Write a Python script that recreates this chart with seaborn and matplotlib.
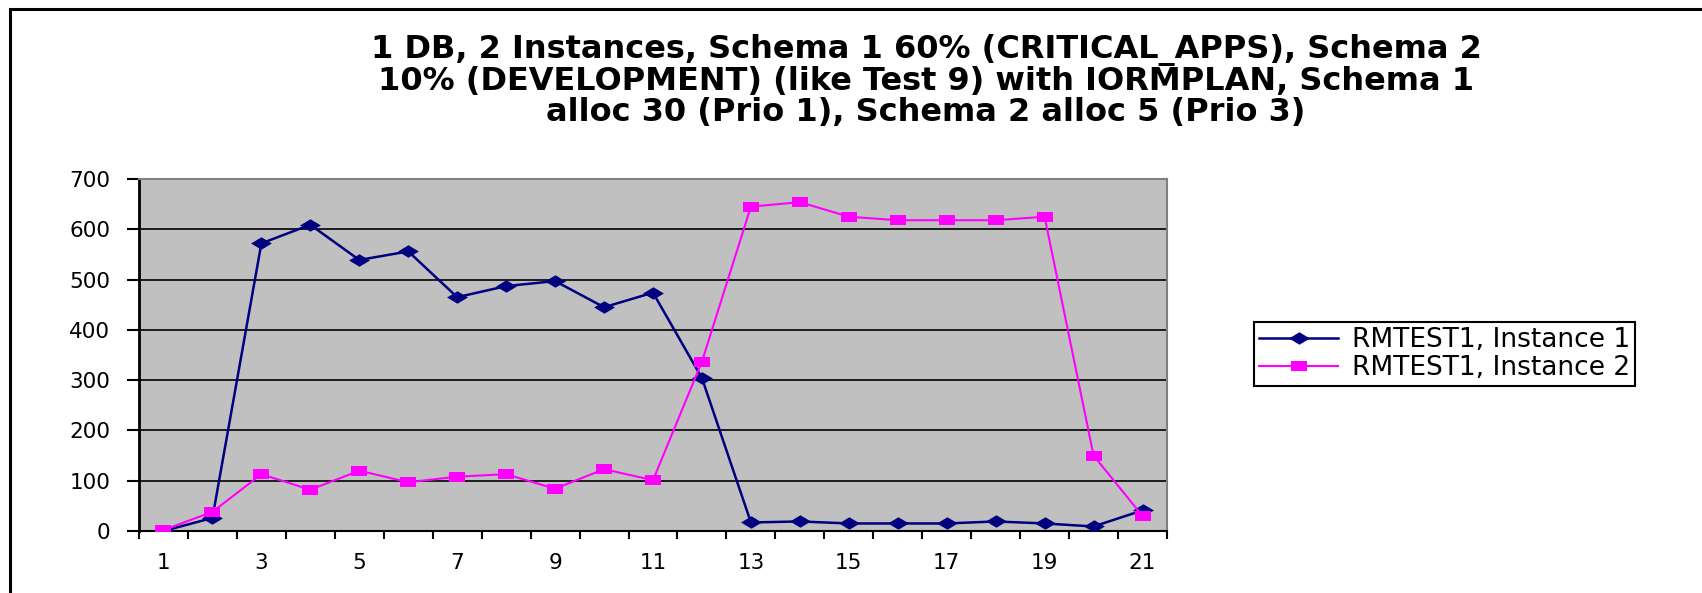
import matplotlib
matplotlib.use("Agg")
import numpy as np
import pandas as pd
import matplotlib.pyplot as plt
import seaborn as sns
from matplotlib.patches import Rectangle
from matplotlib.path import Path
from matplotlib.markers import MarkerStyle
from matplotlib.ticker import FixedLocator, NullFormatter

# ---------------- data ----------------
intervals = list(range(1, 22))
instance1 = [0, 26, 572, 609, 539, 556, 465, 487, 497, 445, 474, 304,
             17, 19, 15, 15, 15, 19, 15, 9, 41]
instance2 = [2, 38, 113, 82, 120, 97, 108, 113, 84, 123, 101, 337,
             645, 654, 625, 618, 618, 618, 625, 150, 30]
series_names = ["RMTEST1, Instance 1", "RMTEST1, Instance 2"]
series_colors = ["#000080", "#FF00FF"]
y_ticks = [0, 100, 200, 300, 400, 500, 600, 700]
x_tick_labels = [1, 3, 5, 7, 9, 11, 13, 15, 17, 19, 21]
title = ("1 DB, 2 Instances, Schema 1 60% (CRITICAL_APPS), Schema 2\n"
         "10% (DEVELOPMENT) (like Test 9) with IORMPLAN, Schema 1\n"
         "alloc 30 (Prio 1), Schema 2 alloc 5 (Prio 3)")

df = pd.DataFrame({
    "interval": intervals * 2,
    "value": instance1 + instance2,
    "series": [series_names[0]] * len(intervals) + [series_names[1]] * len(intervals),
})

plt.rcParams["font.family"] = ["DejaVu Sans"]

W, H = 1702, 593
fig = plt.figure(figsize=(W / 100, H / 100), dpi=100)
fig.patch.set_facecolor("white")

ax_left, ax_right, ax_top, ax_bottom = 139, 1167, 179, 531
ax = fig.add_axes([ax_left / W, 1 - ax_bottom / H,
                   (ax_right - ax_left) / W, (ax_bottom - ax_top) / H])
ax.set_facecolor("#C0C0C0")

diamond = MarkerStyle(Path([(-1, 0), (0, 0.6), (1, 0), (0, -0.6), (-1, 0)],
                           [Path.MOVETO, Path.LINETO, Path.LINETO, Path.LINETO, Path.CLOSEPOLY]))
rect = MarkerStyle(Path([(-1, -0.62), (1, -0.62), (1, 0.62), (-1, 0.62), (-1, -0.62)],
                        [Path.MOVETO, Path.LINETO, Path.LINETO, Path.LINETO, Path.CLOSEPOLY]))

sns.lineplot(data=df, x="interval", y="value", hue="series", style="series",
             hue_order=series_names, style_order=series_names,
             palette=dict(zip(series_names, series_colors)),
             markers={series_names[0]: diamond, series_names[1]: rect},
             dashes=False, markersize=11.5, mew=0, linewidth=1.8,
             legend=False, ax=ax, zorder=3)

lines = ax.lines[:2]
lines[0].set_markersize(15)
lines[1].set_linewidth(1.5)

ax.set_xlim(0.5, 21.5)
ax.set_ylim(0, 700)
ax.set_xlabel("")
ax.set_ylabel("")

ax.yaxis.set_major_locator(FixedLocator(y_ticks))
ax.set_yticklabels([str(v) for v in y_ticks])
ax.xaxis.set_major_locator(FixedLocator(x_tick_labels))
ax.set_xticklabels([str(v) for v in x_tick_labels])
ax.xaxis.set_minor_locator(FixedLocator(np.arange(0.5, 22, 1.0)))
ax.xaxis.set_minor_formatter(NullFormatter())

ax.tick_params(axis="y", which="major", direction="out", length=8.6, width=1.5,
               pad=12, labelsize=15.5, colors="black")
ax.tick_params(axis="x", which="major", length=0, pad=16, labelsize=15.5)
ax.tick_params(axis="x", which="minor", direction="out", length=5.8, width=1.5)

ax.grid(False)
for yv in y_ticks[1:-1]:
    ax.axhline(yv, color="black", lw=1.2, zorder=1)

ax.spines["left"].set_color("black")
ax.spines["left"].set_linewidth(2)
ax.spines["bottom"].set_color("black")
ax.spines["bottom"].set_linewidth(1.5)
ax.spines["top"].set_color("#808080")
ax.spines["top"].set_linewidth(1.5)
ax.spines["right"].set_color("#808080")
ax.spines["right"].set_linewidth(1.5)

fig.text(926 / W, 1 - 81 / H, title, ha="center", va="center",
         fontsize=23, fontweight="bold", linespacing=0.98)

leg = fig.legend(lines, series_names, loc="center",
                 bbox_to_anchor=(1444.5 / W, 1 - 354 / H),
                 frameon=True, fancybox=False, edgecolor="black", framealpha=1,
                 fontsize=19, handlelength=3.0, labelspacing=0.08,
                 borderpad=0.2, handletextpad=0.5, borderaxespad=0)
leg.get_frame().set_linewidth(1.5)

fig.patches.append(Rectangle((10 / W, -0.2), 1.5, 0.2 + 1 - 9 / H,
                             transform=fig.transFigure, fill=False,
                             edgecolor="black", linewidth=2.2))

fig.savefig("out.png", dpi=100)
